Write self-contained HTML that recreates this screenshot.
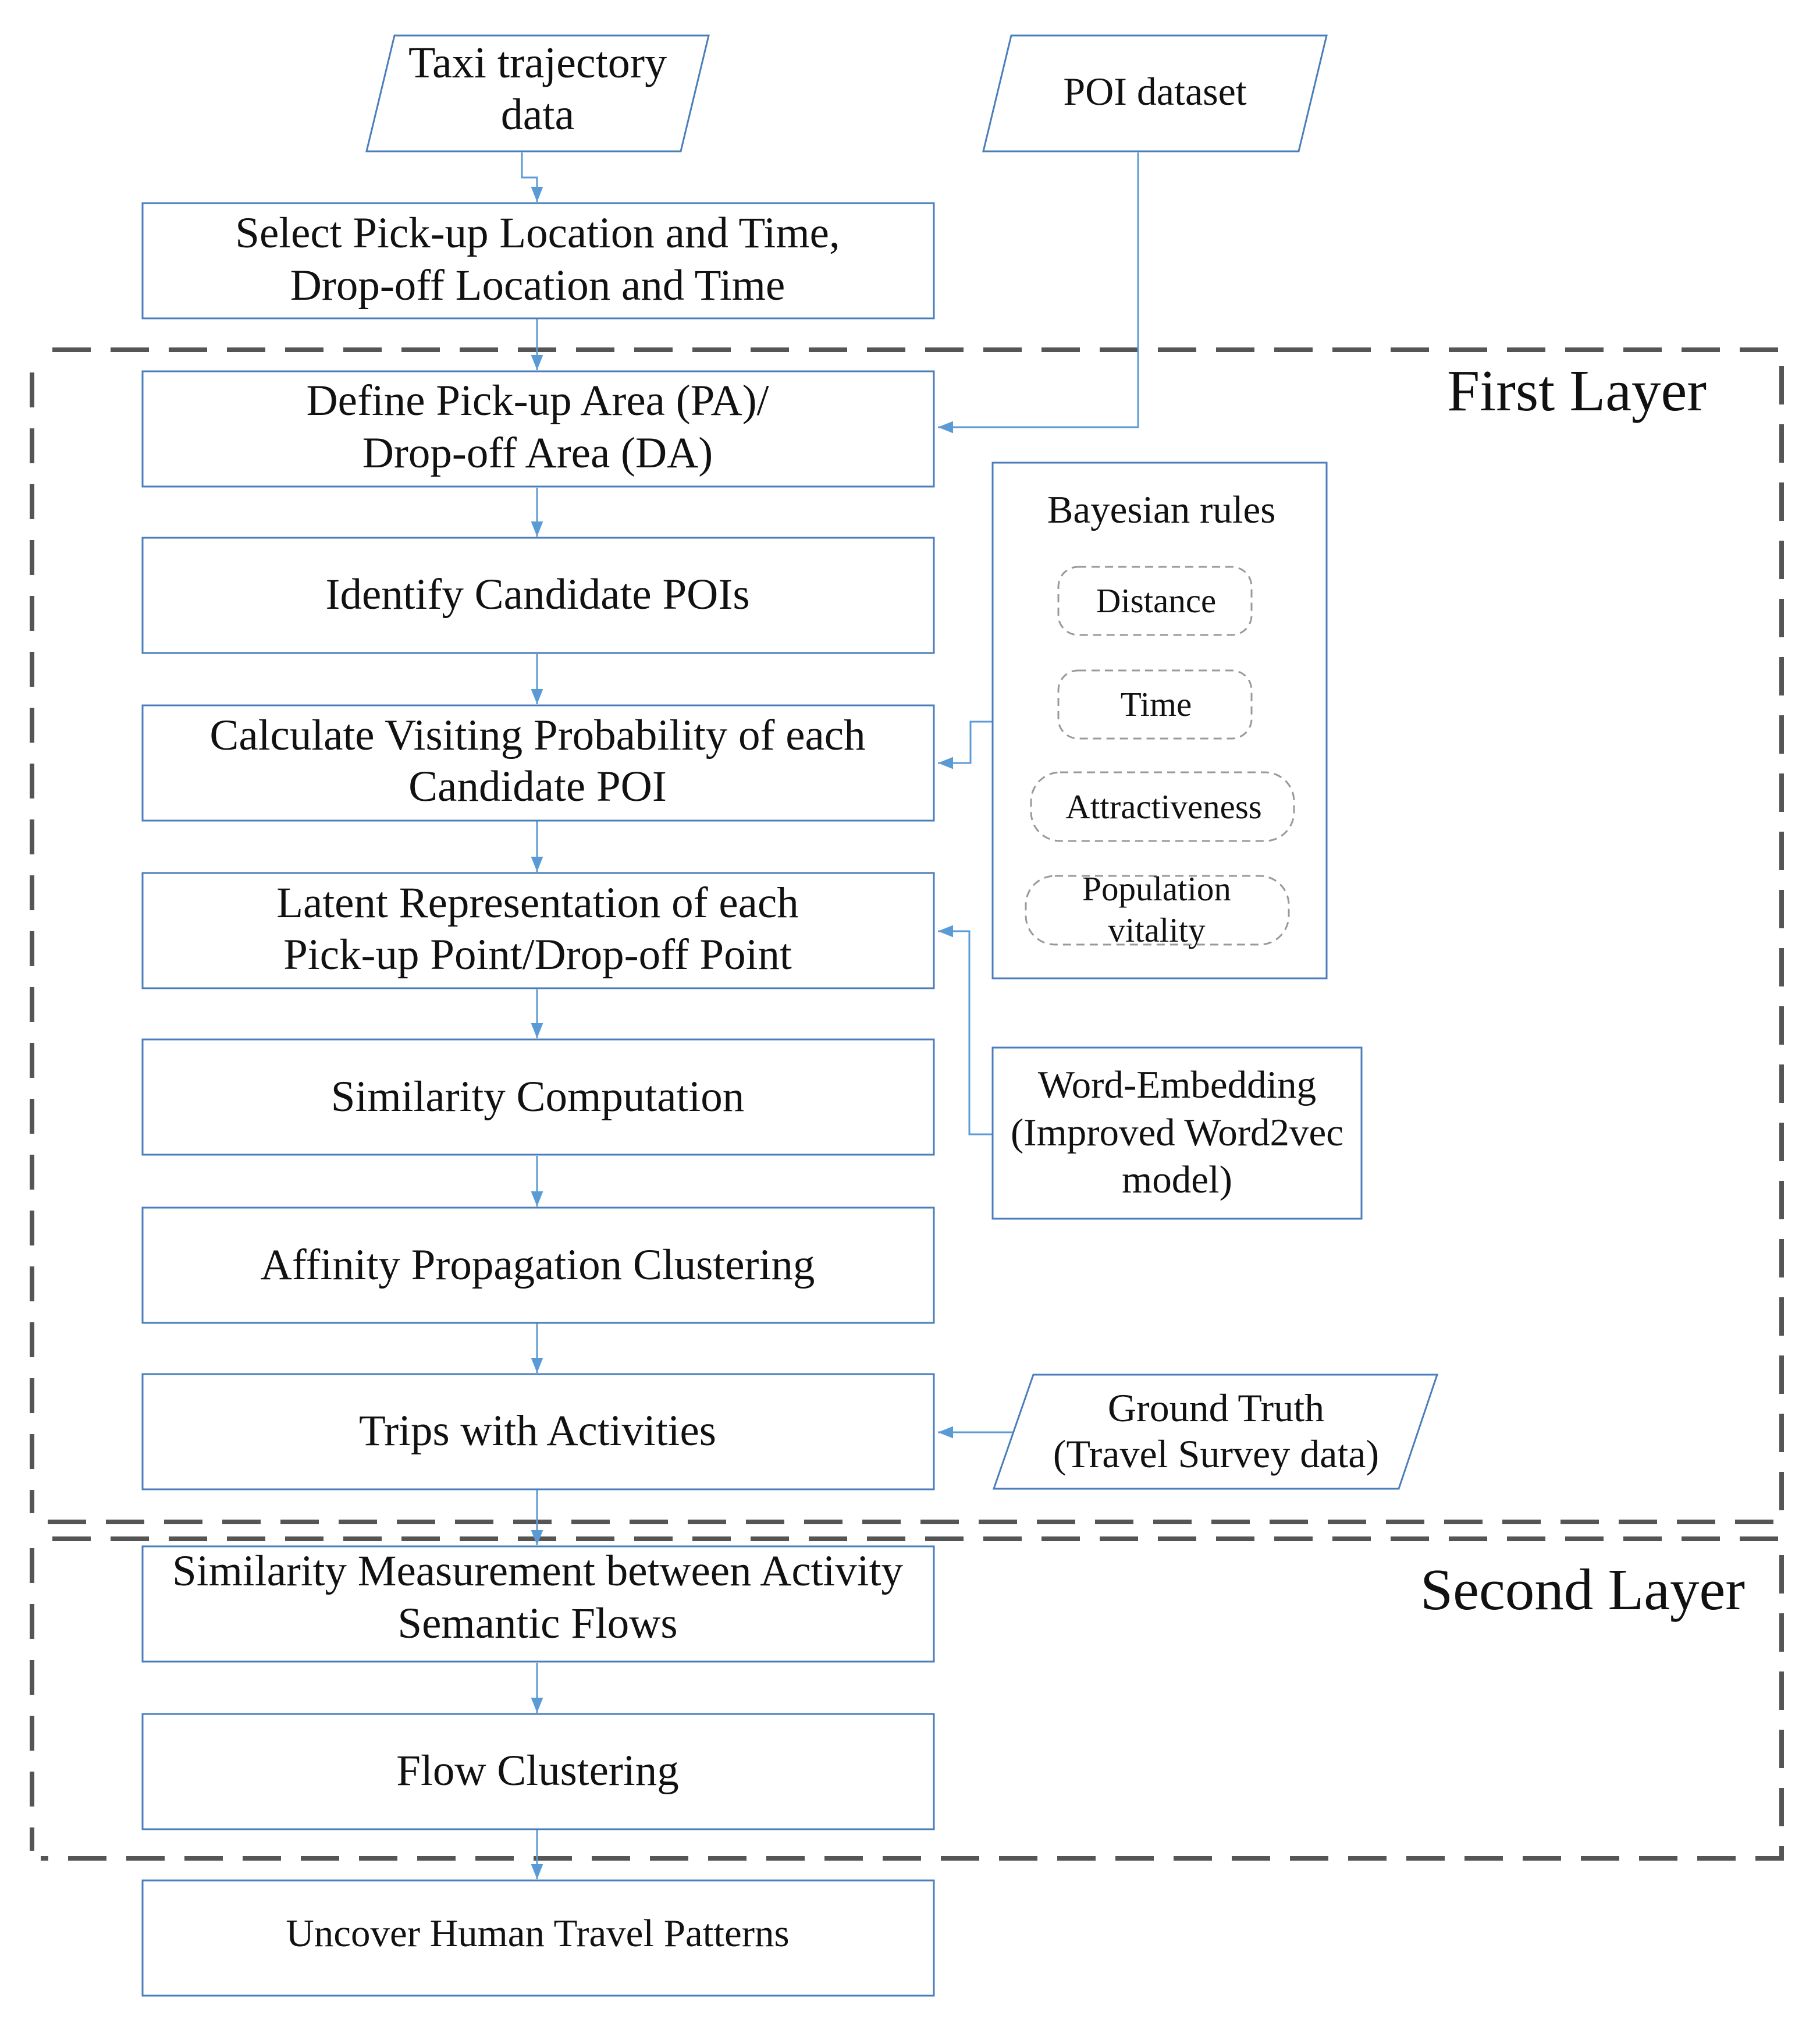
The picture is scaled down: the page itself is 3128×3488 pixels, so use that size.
<!DOCTYPE html>
<html><head><meta charset="utf-8"><style>
html,body{margin:0;padding:0;background:#fff;}
svg{display:block;}
text{font-family:"Liberation Serif",serif;fill:#111;}
</style></head><body>
<svg width="3128" height="3488" viewBox="0 0 3128 3488" xmlns="http://www.w3.org/2000/svg">
<defs>
<marker id="b" viewBox="0 0 10 10" refX="10" refY="5" markerWidth="26" markerHeight="26" orient="auto" markerUnits="userSpaceOnUse"><path d="M0,1 L10,5 L0,9 z" fill="#5b9bd5"/></marker>
</defs>

<g fill="none" stroke="#555" stroke-width="8" stroke-dasharray="66,34">
<path d="M90,601 L3062,601 L3062,2615 L70,2615"/>
<path d="M55,640 L55,2600" stroke-dasharray="60,36"/>
<path d="M90,2644 L3062,2644 L3062,3193 L70,3193"/>
<path d="M55,2660 L55,3180" stroke-dasharray="60,36"/>
</g>
<text x="2710" y="705" font-size="101" text-anchor="middle">First Layer</text>
<text x="2720" y="2765" font-size="101" text-anchor="middle">Second Layer</text>

<g fill="none" stroke="#5b9bd5" stroke-width="3" marker-end="url(#b)">
<path d="M897,262 L897,305 L923,305 L923,347"/>
<path d="M923,548 L923,636"/>
<path d="M923,838 L923,922"/>
<path d="M923,1124 L923,1210"/>
<path d="M923,1411 L923,1498"/>
<path d="M923,1700 L923,1784"/>
<path d="M923,1986 L923,2073"/>
<path d="M923,2274 L923,2359"/>
<path d="M923,2560 L923,2655"/>
<path d="M923,2857 L923,2943"/>
<path d="M923,3144 L923,3229"/>
<path d="M1956,262 L1956,734 L1612,734"/>
<path d="M1706,1240 L1668,1240 L1668,1311 L1612,1311"/>
<path d="M1706,1949 L1666,1949 L1666,1600 L1612,1600"/>
<path d="M1750,2461 L1612,2461"/>
</g>

<g fill="#fff" stroke="#4a7ebb" stroke-width="3">
<polygon points="678,61 1218,61 1170,260 630,260"/>
<polygon points="1738,61 2280,61 2232,260 1690,260"/>
<polygon points="1776,2362 2470,2362 2404,2558 1708,2558"/>
</g>
<text x="924" y="133" font-size="76" text-anchor="middle">Taxi trajectory</text>
<text x="924" y="222" font-size="76" text-anchor="middle">data</text>
<text x="1985" y="180" font-size="68" text-anchor="middle">POI dataset</text>
<text x="2090" y="2442" font-size="68" text-anchor="middle">Ground Truth</text>
<text x="2090" y="2521" font-size="68" text-anchor="middle">(Travel Survey data)</text>

<g fill="#fff" stroke="#4a7ebb" stroke-width="3">
<rect x="245" y="349" width="1360" height="198"/>
<rect x="245" y="638" width="1360" height="198"/>
<rect x="245" y="924" width="1360" height="198"/>
<rect x="245" y="1212" width="1360" height="198"/>
<rect x="245" y="1500" width="1360" height="198"/>
<rect x="245" y="1786" width="1360" height="198"/>
<rect x="245" y="2075" width="1360" height="198"/>
<rect x="245" y="2361" width="1360" height="198"/>
<rect x="245" y="2657" width="1360" height="198"/>
<rect x="245" y="2945" width="1360" height="198"/>
<rect x="245" y="3231" width="1360" height="198"/>
</g>
<g font-size="75" text-anchor="middle">
<text x="924" y="425">Select Pick-up Location and Time,</text>
<text x="924" y="515">Drop-off Location and Time</text>
<text x="924" y="713">Define Pick-up Area (PA)/</text>
<text x="924" y="803">Drop-off Area (DA)</text>
<text x="924" y="1046">Identify Candidate POIs</text>
<text x="924" y="1288">Calculate Visiting Probability of each</text>
<text x="924" y="1376">Candidate POI</text>
<text x="924" y="1576">Latent Representation of each</text>
<text x="924" y="1665">Pick-up Point/Drop-off Point</text>
<text x="924" y="1909">Similarity Computation</text>
<text x="924" y="2198">Affinity Propagation Clustering</text>
<text x="924" y="2483">Trips with Activities</text>
<text x="924" y="2724">Similarity Measurement between Activity</text>
<text x="924" y="2814">Semantic Flows</text>
<text x="924" y="3067">Flow Clustering</text>
<text x="924" y="3344" font-size="67">Uncover Human Travel Patterns</text>
</g>

<rect x="1706" y="795" width="574" height="886" fill="#fff" stroke="#4a7ebb" stroke-width="3"/>
<text x="1996" y="898" font-size="67" text-anchor="middle">Bayesian rules</text>
<g fill="none" stroke="#999" stroke-width="3" stroke-dasharray="14,9">
<rect x="1819" y="974" width="332" height="117" rx="34"/>
<rect x="1819" y="1152" width="332" height="117" rx="34"/>
<rect x="1772" y="1327" width="452" height="118" rx="50"/>
<rect x="1763" y="1505" width="452" height="118" rx="50"/>
</g>
<g font-size="59" text-anchor="middle">
<text x="1987" y="1052">Distance</text>
<text x="1987" y="1230">Time</text>
<text x="2000" y="1406">Attractiveness</text>
<text x="1988" y="1547">Population</text>
<text x="1988" y="1618">vitality</text>
</g>

<rect x="1706" y="1800" width="634" height="294" fill="#fff" stroke="#4a7ebb" stroke-width="3"/>
<g font-size="67" text-anchor="middle">
<text x="2023" y="1886">Word-Embedding</text>
<text x="2023" y="1968">(Improved Word2vec</text>
<text x="2023" y="2049">model)</text>
</g>
</svg>
</body></html>
